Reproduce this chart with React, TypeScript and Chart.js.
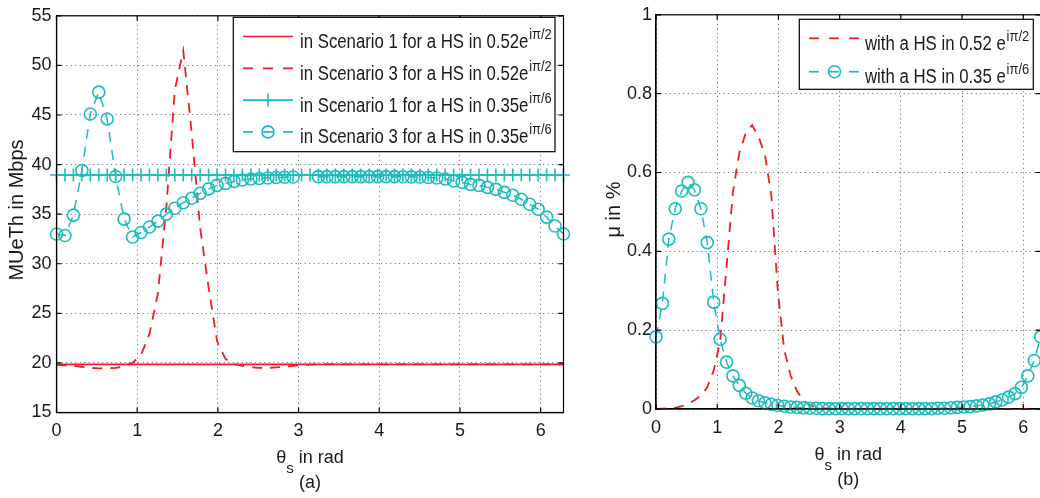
import React, { useEffect, useRef } from 'react';
import { Chart, registerables } from 'chart.js';

Chart.register(...registerables);

const FONT = "'Liberation Sans', Arial, Helvetica, sans-serif";
const RED = '#ee1c24';
const CYAN = '#1bbdbd';
const TEXT = '#1a1a1a';
const GRID = 'rgba(40,40,40,0.75)';

// angle grid (rad)
const THETA = [
  0, 0.1047, 0.2094, 0.3142, 0.4189, 0.5236, 0.6283, 0.733, 0.8378, 0.9425,
  1.0472, 1.1519, 1.2566, 1.3614, 1.4661, 1.5708, 1.6755, 1.7802, 1.885, 1.9897,
  2.0944, 2.1991, 2.3038, 2.4086, 2.5133, 2.618, 2.7227, 2.8274, 2.9322, 3.0369,
  3.1416, 3.2463, 3.351, 3.4558, 3.5605, 3.6652, 3.7699, 3.8746, 3.9794, 4.0841,
  4.1888, 4.2935, 4.3982, 4.5029, 4.6077, 4.7124, 4.8171, 4.9218, 5.0265, 5.1313,
  5.236, 5.3407, 5.4454, 5.5501, 5.6549, 5.7596, 5.8643, 5.969, 6.0737, 6.1785,
  6.2832,
];
const X_MAX = 6.2832;
const X_TICK_STEP = 1;

// (a) MUeTh in Mbps
const MUETH_S1_052 = [
  19.86, 19.86, 19.86, 19.86, 19.86, 19.86, 19.86, 19.86, 19.86, 19.86,
  19.86, 19.86, 19.86, 19.86, 19.86, 19.86, 19.86, 19.86, 19.86, 19.86,
  19.86, 19.86, 19.86, 19.86, 19.86, 19.86, 19.86, 19.86, 19.86, 19.86,
  19.86, 19.86, 19.86, 19.86, 19.86, 19.86, 19.86, 19.86, 19.86, 19.86,
  19.86, 19.86, 19.86, 19.86, 19.86, 19.86, 19.86, 19.86, 19.86, 19.86,
  19.86, 19.86, 19.86, 19.86, 19.86, 19.86, 19.86, 19.86, 19.86, 19.86,
  19.86,
];
const MUETH_S3_052 = [
  19.8, 19.75, 19.7, 19.6, 19.5, 19.45, 19.45, 19.5, 19.65, 20.0,
  20.8, 22.9, 27.0, 35.7, 47.5, 51.5, 43.2, 33.6, 27.6, 22.2,
  20.4, 19.9, 19.7, 19.55, 19.5, 19.5, 19.55, 19.6, 19.7, 19.78,
  19.82, 19.86, 19.86, 19.86, 19.86, 19.86, 19.86, 19.86, 19.86, 19.86,
  19.86, 19.86, 19.86, 19.86, 19.86, 19.86, 19.86, 19.86, 19.86, 19.86,
  19.86, 19.86, 19.86, 19.86, 19.86, 19.86, 19.86, 19.86, 19.86, 19.86,
  19.86,
];
const MUETH_S1_035 = [
  38.95, 38.95, 38.95, 38.95, 38.95, 38.95, 38.95, 38.95, 38.95, 38.95,
  38.95, 38.95, 38.95, 38.95, 38.95, 38.95, 38.95, 38.95, 38.95, 38.95,
  38.95, 38.95, 38.95, 38.95, 38.95, 38.95, 38.95, 38.95, 38.95, 38.95,
  38.95, 38.95, 38.95, 38.95, 38.95, 38.95, 38.95, 38.95, 38.95, 38.95,
  38.95, 38.95, 38.95, 38.95, 38.95, 38.95, 38.95, 38.95, 38.95, 38.95,
  38.95, 38.95, 38.95, 38.95, 38.95, 38.95, 38.95, 38.95, 38.95, 38.95,
  38.95,
];
const MUETH_S3_035: (number | null)[] = [
  33.0, 32.85, 34.9, 39.4, 45.1, 47.3, 44.6, 38.8, 34.5, 32.7,
  33.15, 33.7, 34.3, 35.0, 35.6, 36.15, 36.6, 37.1, 37.55, 37.9,
  38.1, 38.3, 38.45, 38.55, 38.6, 38.65, 38.7, 38.72, 38.75, null,
  null, 38.78, 38.78, 38.78, 38.78, 38.78, 38.78, 38.78, 38.78, 38.78,
  38.78, 38.77, 38.76, 38.74, 38.7, 38.65, 38.55, 38.35, 38.2, 38.0,
  37.9, 37.7, 37.5, 37.2, 36.9, 36.5, 36.0, 35.5, 34.7, 33.8,
  33.0,
];

// (b) mu in %
const MU_052 = [
  0, 0.001, 0.002, 0.003, 0.007, 0.013, 0.022, 0.034, 0.055, 0.098,
  0.17, 0.36, 0.55, 0.65, 0.7, 0.72, 0.69, 0.645, 0.54, 0.3,
  0.15, 0.085, 0.045, 0.022, 0.01, 0.005, 0.002, 0.001, 0, 0,
  0, 0, 0, 0, 0, 0, 0, 0, 0, 0,
  0, 0, 0, 0, 0, 0, 0, 0, 0, 0,
  0, 0, 0, 0, 0, 0, 0, 0, 0, 0,
  0,
];
const MU_035 = [
  0.183, 0.268, 0.431, 0.508, 0.553, 0.575, 0.556, 0.508, 0.422, 0.271,
  0.177, 0.119, 0.084, 0.06, 0.04, 0.028, 0.021, 0.016, 0.012, 0.009,
  0.007, 0.005, 0.004, 0.003, 0.002, 0.002, 0.001, 0.001, 0.001, 0.001,
  0.001, 0.001, 0.001, 0.001, 0.001, 0.001, 0.001, 0.001, 0.001, 0.001,
  0.001, 0.001, 0.001, 0.001, 0.002, 0.002, 0.003, 0.004, 0.005, 0.006,
  0.008, 0.01, 0.013, 0.018, 0.023, 0.03, 0.039, 0.055, 0.084, 0.123,
  0.183,
];

const LEFT_LABELS = [
  'in Scenario 1 for a HS in 0.52e',
  'in Scenario 3 for a HS in 0.52e',
  'in Scenario 1 for a HS in 0.35e',
  'in Scenario 3 for a HS in 0.35e',
];
const LEFT_SUPS = ['iπ/2', 'iπ/2', 'iπ/6', 'iπ/6'];
const RIGHT_LABELS = ['with a HS in 0.52 e', 'with a HS in 0.35 e'];
const RIGHT_SUPS = ['iπ/2', 'iπ/6'];

type Marker = 'none' | 'plus' | 'circle';
type LegendRow = { color: string; dash: number[]; marker: Marker; text: string; sup: string };
type Decor = {
  legend: {
    x: number; y: number; w: number; h: number;
    lx0: number; lx1: number; tx: number; row0: number; dy: number;
    rows: LegendRow[];
  };
  yTitle: { text: string; x: number; y: number };
  caption: string;
};

const LEG_FS = 19.5;
const LEG_SX = 0.86;
const SUP_FS = 15;

function decorPlugin(d: Decor) {
  return {
    id: 'decor',
    afterDraw(chart: any) {
      const ctx: CanvasRenderingContext2D = chart.ctx;
      const a = chart.chartArea;
      const xs = chart.scales.x;
      const ys = chart.scales.y;
      ctx.save();
      ctx.setLineDash([]);
      // frame
      ctx.strokeStyle = '#000';
      ctx.lineWidth = 1.2;
      ctx.strokeRect(a.left, a.top, a.right - a.left, a.bottom - a.top);
      // inward ticks
      ctx.beginPath();
      xs.ticks.forEach((t: any) => {
        const px = xs.getPixelForValue(t.value);
        ctx.moveTo(px, a.bottom); ctx.lineTo(px, a.bottom - 5);
        ctx.moveTo(px, a.top); ctx.lineTo(px, a.top + 5);
      });
      ys.ticks.forEach((t: any) => {
        const py = ys.getPixelForValue(t.value);
        ctx.moveTo(a.left, py); ctx.lineTo(a.left + 5, py);
        ctx.moveTo(a.right, py); ctx.lineTo(a.right - 5, py);
      });
      ctx.stroke();

      // legend
      const L = d.legend;
      ctx.fillStyle = '#fff';
      ctx.fillRect(L.x, L.y, L.w, L.h);
      ctx.strokeStyle = '#000';
      ctx.lineWidth = 1.2;
      ctx.strokeRect(L.x, L.y, L.w, L.h);
      L.rows.forEach((r, i) => {
        const y = L.row0 + i * L.dy;
        ctx.strokeStyle = r.color;
        ctx.lineWidth = 1.7;
        ctx.setLineDash(r.dash);
        ctx.beginPath();
        ctx.moveTo(L.lx0, y);
        ctx.lineTo(L.lx1, y);
        ctx.stroke();
        ctx.setLineDash([]);
        const cx = (L.lx0 + L.lx1) / 2;
        if (r.marker === 'circle') {
          ctx.lineWidth = 1.6;
          ctx.beginPath();
          ctx.arc(cx, y, 6, 0, Math.PI * 2);
          ctx.stroke();
        } else if (r.marker === 'plus') {
          ctx.lineWidth = 1.6;
          ctx.beginPath();
          ctx.moveTo(cx, y - 6.5); ctx.lineTo(cx, y + 6.5);
          ctx.stroke();
        }
        ctx.save();
        ctx.translate(L.tx, y + 11.5);
        ctx.scale(LEG_SX, 1);
        ctx.fillStyle = TEXT;
        ctx.textAlign = 'left';
        ctx.textBaseline = 'alphabetic';
        ctx.font = `${LEG_FS}px ${FONT}`;
        ctx.fillText(r.text, 0, 0);
        const w = ctx.measureText(r.text).width;
        ctx.font = `${SUP_FS}px ${FONT}`;
        ctx.fillText(r.sup, w + 1, -9);
        ctx.restore();
      });

      // x title with subscript
      const cxm = (a.left + a.right) / 2;
      ctx.fillStyle = TEXT;
      ctx.textBaseline = 'alphabetic';
      ctx.textAlign = 'left';
      ctx.font = `18px ${FONT}`;
      const wT = ctx.measureText('θ').width;
      const rest = ' in rad';
      const wR = ctx.measureText(rest).width;
      ctx.font = `15px ${FONT}`;
      const wS = ctx.measureText('s').width;
      const x0 = cxm - (wT + wS + wR) / 2;
      const by = a.bottom + 50.5;
      ctx.font = `18px ${FONT}`;
      ctx.fillText('θ', x0, by);
      ctx.fillText(rest, x0 + wT + wS, by);
      ctx.font = `15px ${FONT}`;
      ctx.fillText('s', x0 + wT, by + 10);
      // caption
      ctx.font = `18px ${FONT}`;
      ctx.textAlign = 'center';
      ctx.fillText(d.caption, cxm, a.bottom + 75.5);
      // y title
      ctx.save();
      ctx.translate(d.yTitle.x, d.yTitle.y);
      ctx.rotate(-Math.PI / 2);
      ctx.font = `20px ${FONT}`;
      ctx.textAlign = 'center';
      ctx.fillText(d.yTitle.text, 0, 0);
      ctx.restore();

      ctx.restore();
    },
  };
}

const pts = (vals: (number | null)[]) => THETA.map((x, i) => ({ x, y: vals[i] }));

function lineDs(label: string, vals: (number | null)[], color: string, dash: number[], order: number) {
  return {
    label,
    data: pts(vals),
    borderColor: color,
    backgroundColor: 'rgba(0,0,0,0)',
    borderWidth: 1.8,
    borderDash: dash,
    pointRadius: 0,
    fill: false,
    tension: 0,
    spanGaps: false,
    clip: false,
    order,
  };
}

function markerDs(label: string, vals: (number | null)[], color: string, dash: number[], style: string, radius: number, order: number) {
  return {
    label,
    data: pts(vals),
    borderColor: color,
    backgroundColor: 'rgba(0,0,0,0)',
    borderWidth: 1.5,
    borderDash: dash,
    pointStyle: style,
    pointRadius: radius,
    pointBorderWidth: 1.6,
    pointBorderColor: color,
    pointBackgroundColor: 'rgba(0,0,0,0)',
    fill: false,
    tension: 0,
    spanGaps: false,
    clip: false,
    order,
  };
}

type Cfg = {
  datasets: any[];
  yMin: number; yMax: number; yStep: number;
  yAxisW: number; xAxisH: number; yTickPad: number;
  padding: { left: number; top: number; right: number; bottom: number };
  decor: Decor;
};

function makeChart(canvas: HTMLCanvasElement, c: Cfg) {
  const tickFont = { size: 18, family: FONT };
  const fmt = (v: any) => String(Math.round(Number(v) * 10) / 10);
  return new Chart(canvas, {
    type: 'line',
    data: { datasets: c.datasets },
    options: {
      responsive: false,
      animation: false,
      devicePixelRatio: 1,
      layout: { padding: c.padding },
      plugins: { legend: { display: false }, tooltip: { enabled: false } },
      scales: {
        x: {
          type: 'linear',
          min: 0,
          max: X_MAX,
          ticks: {
            stepSize: X_TICK_STEP,
            includeBounds: false,
            autoSkip: false,
            maxRotation: 0,
            font: tickFont,
            color: TEXT,
            padding: 8,
            callback: fmt,
          },
          grid: { color: GRID, lineWidth: 1, drawTicks: false, tickLength: 0 },
          border: { display: true, color: '#000', width: 1.2, dash: [1, 3.5] },
          afterFit: (s: any) => { s.height = c.xAxisH; },
        },
        y: {
          type: 'linear',
          min: c.yMin,
          max: c.yMax,
          ticks: {
            stepSize: c.yStep,
            font: tickFont,
            color: TEXT,
            padding: c.yTickPad,
            callback: fmt,
          },
          grid: { color: GRID, lineWidth: 1, drawTicks: false, tickLength: 0 },
          border: { display: true, color: '#000', width: 1.2, dash: [1, 3.5] },
          afterFit: (s: any) => { s.width = c.yAxisW; },
        },
      },
    } as any,
    plugins: [decorPlugin(c.decor)],
  });
}

export default function App() {
  const leftRef = useRef<HTMLCanvasElement>(null);
  const rightRef = useRef<HTMLCanvasElement>(null);

  useEffect(() => {
    const left = makeChart(leftRef.current as HTMLCanvasElement, {
      datasets: [
        lineDs(LEFT_LABELS[0], MUETH_S1_052, RED, [], 4),
        lineDs(LEFT_LABELS[1], MUETH_S3_052, RED, [10, 8], 3),
        markerDs(LEFT_LABELS[2], MUETH_S1_035, CYAN, [], 'cross', 6.5, 2),
        markerDs(LEFT_LABELS[3], MUETH_S3_035, CYAN, [10, 8], 'circle', 6, 1),
      ],
      yMin: 15, yMax: 55, yStep: 5,
      yAxisW: 56.5, xAxisH: 85.5, yTickPad: 5,
      padding: { left: 0, top: 7.3, right: 16.5, bottom: 0 },
      decor: {
        legend: {
          x: 233.3, y: 17.3, w: 321.7, h: 134.4,
          lx0: 243, lx1: 293, tx: 300, row0: 36.5, dy: 31.8,
          rows: [
            { color: RED, dash: [], marker: 'none', text: LEFT_LABELS[0], sup: LEFT_SUPS[0] },
            { color: RED, dash: [10, 10], marker: 'none', text: LEFT_LABELS[1], sup: LEFT_SUPS[1] },
            { color: CYAN, dash: [], marker: 'plus', text: LEFT_LABELS[2], sup: LEFT_SUPS[2] },
            { color: CYAN, dash: [10, 10], marker: 'circle', text: LEFT_LABELS[3], sup: LEFT_SUPS[3] },
          ],
        },
        yTitle: { text: 'MUeTh in Mbps', x: 23.3, y: 210 },
        caption: '(a)',
      },
    });

    const right = makeChart(rightRef.current as HTMLCanvasElement, {
      datasets: [
        lineDs(RIGHT_LABELS[0], MU_052, RED, [10, 8], 2),
        markerDs(RIGHT_LABELS[1], MU_035, CYAN, [10, 8], 'circle', 6, 1),
      ],
      yMin: 0, yMax: 1, yStep: 0.2,
      yAxisW: 76, xAxisH: 89, yTickPad: 4,
      padding: { left: 0, top: 10.5, right: 19.4, bottom: 0 },
      decor: {
        legend: {
          x: 219.3, y: 19.3, w: 234, h: 70,
          lx0: 229, lx1: 280, tx: 285, row0: 38.3, dy: 33.4,
          rows: [
            { color: RED, dash: [10, 10], marker: 'none', text: RIGHT_LABELS[0], sup: RIGHT_SUPS[0] },
            { color: CYAN, dash: [10, 10], marker: 'circle', text: RIGHT_LABELS[1], sup: RIGHT_SUPS[1] },
          ],
        },
        yTitle: { text: 'μ in %', x: 40, y: 209.5 },
        caption: '(b)',
      },
    });

    return () => {
      left.destroy();
      right.destroy();
    };
  }, []);

  return (
    <div
      style={{
        position: 'fixed', left: 0, top: 0, width: 1040, height: 498,
        overflow: 'hidden', background: '#fff',
      }}
    >
      <canvas
        ref={leftRef}
        width={580}
        height={498}
        style={{ position: 'absolute', left: 0, top: 0, width: 580, height: 498 }}
      />
      <canvas
        ref={rightRef}
        width={480}
        height={498}
        style={{ position: 'absolute', left: 580, top: 0, width: 480, height: 498 }}
      />
    </div>
  );
}
